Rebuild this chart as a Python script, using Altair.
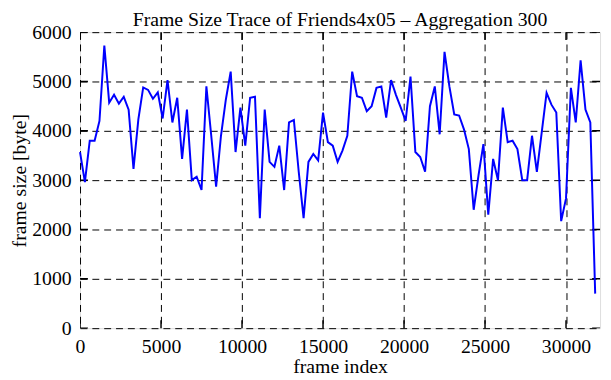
import altair as alt
import pandas as pd

# frame index of each aggregated sample (aggregation window = 300 frames)
frame_index = list(range(0, 31801, 300))

# aggregated frame size in bytes
frame_size = [
    3570, 2960, 3800, 3800, 4200, 5730, 4570, 4730, 4550, 4690,
    4430, 3230, 4230, 4880, 4830, 4650, 4780, 4250, 5030, 4170,
    4670, 3430, 4430, 3000, 3070, 2800, 4900, 3900, 2870, 3900,
    4630, 5200, 3570, 4470, 3700, 4670, 4690, 2230, 4430, 3370,
    3270, 3700, 2800, 4170, 4220, 3170, 2230, 3370, 3530, 3400,
    4370, 3770, 3700, 3370, 3600, 3900, 5200, 4700, 4670, 4400,
    4500, 4870, 4900, 4270, 5030, 4730, 4470, 4200, 5100, 3570,
    3470, 3170, 4500, 4900, 3930, 5600, 4900, 4330, 4310, 4030,
    3630, 2400, 3100, 3730, 2300, 3430, 3000, 4470, 3770, 3800,
    3630, 3000, 3000, 3900, 3170, 3970, 4770, 4530, 4370, 2170,
    2630, 4870, 4170, 5430, 4430, 4170, 700,
]

x_ticks = [0, 5000, 10000, 15000, 20000, 25000, 30000]
y_ticks = [0, 1000, 2000, 3000, 4000, 5000, 6000]

df = pd.DataFrame({"frame": frame_index, "size": frame_size})
df_xt = pd.DataFrame({"frame": x_ticks})
df_yt = pd.DataFrame({"size": y_ticks})

FONT = "Liberation Serif"
PLOT_W, PLOT_H = 527, 300

x_scale = alt.Scale(domain=[0, 32100], nice=False, zero=False)
y_scale = alt.Scale(domain=[0, 6000], nice=False)

x_axis = alt.Axis(
    values=x_ticks,
    title="frame index",
    grid=True,
    gridDash=[7, 5],
    gridColor="black",
    gridWidth=1,
    gridOpacity=1,
    ticks=False,
    domain=False,
    labelPadding=9,
    labelFlush=False,
    labelOverlap=False,
    labelFont=FONT,
    labelFontSize=20,
    labelColor="black",
    titleFont=FONT,
    titleFontSize=20,
    titleFontWeight="normal",
    titleColor="black",
    titleX=PLOT_W / 2,
    titleY=45,
    titleAlign="center",
    titleBaseline="alphabetic",
    format="d",
)

y_axis = alt.Axis(
    values=y_ticks,
    title="frame size [byte]",
    grid=True,
    gridDash=[7, 5],
    gridColor="black",
    gridWidth=1,
    gridOpacity=1,
    ticks=False,
    domain=False,
    labelPadding=9,
    labelFont=FONT,
    labelFontSize=20,
    labelColor="black",
    titleFont=FONT,
    titleFontSize=20,
    titleFontWeight="normal",
    titleColor="black",
    titleAngle=-90,
    titleX=-55,
    titleY=PLOT_H / 2,
    titleAlign="center",
    titleBaseline="alphabetic",
    format="d",
)

X = alt.X("frame:Q", scale=x_scale, axis=x_axis)
Y = alt.Y("size:Q", scale=y_scale, axis=y_axis)

line = alt.Chart(df).mark_line(color="#0000ff", strokeWidth=2).encode(x=X, y=Y)

# inward tick marks on all four sides of the frame (half of each tick is clipped)
tick_style = dict(color="black", size=16, thickness=1.5, clip=True, opacity=1)
ticks_bottom = alt.Chart(df_xt).mark_tick(orient="vertical", **tick_style).encode(
    x=X, y=alt.value(PLOT_H)
)
ticks_top = alt.Chart(df_xt).mark_tick(orient="vertical", **tick_style).encode(
    x=X, y=alt.value(0)
)
ticks_left = alt.Chart(df_yt).mark_tick(orient="horizontal", **tick_style).encode(
    y=Y, x=alt.value(0)
)
ticks_right = alt.Chart(df_yt).mark_tick(orient="horizontal", **tick_style).encode(
    y=Y, x=alt.value(PLOT_W)
)

chart = (
    alt.layer(ticks_bottom, ticks_top, ticks_left, ticks_right, line)
    .properties(
        width=PLOT_W,
        height=PLOT_H,
        autosize=alt.AutoSizeParams(type="none"),
        padding={"left": 73, "top": 22, "right": 3, "bottom": 46},
        title=alt.TitleParams(
            "Frame Size Trace of Friends4x05 \u2013 Aggregation 300",
            font=FONT,
            fontSize=20,
            fontWeight="normal",
            color="black",
            anchor="middle",
            frame="group",
            baseline="alphabetic",
            offset=0,
            dy=24,
        ),
    )
    .configure_view(stroke="black", strokeWidth=2)
    .configure(background="white")
)

chart.save("out.html", embed_options={"renderer": "svg", "actions": False})
